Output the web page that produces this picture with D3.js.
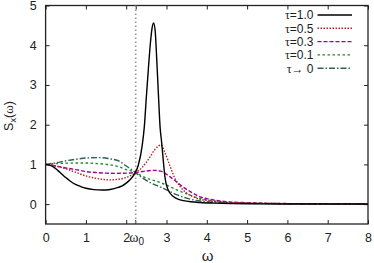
<!DOCTYPE html>
<html><head><meta charset="utf-8">
<script src="https://cdn.jsdelivr.net/npm/d3@7"></script>
<style>
body{margin:0;background:#fff;}
text{font-family:"Liberation Sans",Arial,sans-serif;}
</style></head>
<body><svg id="c" width="374" height="263"></svg>
<script>
const xTicks = [0,1,2,3,4,5,6,7,8];
const yTicks = [0,1,2,3,4,5];
const omega0 = 2.236;
const legendSym = ["τ","τ","τ","τ","τ→"];
const legendVal = ["=1.0","=0.5","=0.3","=0.1"," 0"];

const w1 = [0,0.1,0.2,0.3,0.4,0.5,0.6,0.7,0.8,0.9,1.0,1.2,1.4,1.6,1.8,1.9,2.0,2.1,2.2,2.3,2.4,2.45,2.5,2.55,2.6,2.64,2.68,2.72,2.76,2.8,2.84,2.88,2.92,2.96,3.04,3.17,3.3,3.42,3.6,3.83,4.2,4.6,5,6,7,8];
const s1 = [1.0,0.98,0.93,0.85,0.76,0.67,0.59,0.52,0.47,0.43,0.40,0.365,0.355,0.37,0.42,0.46,0.53,0.62,0.75,0.98,1.5,1.95,2.7,3.4,4.05,4.42,4.56,4.35,3.6,2.75,1.95,1.55,1.1,0.69,0.36,0.19,0.12,0.09,0.06,0.04,0.025,0.015,0.01,0.005,0.003,0.002];

const w2 = [0,0.25,0.5,0.75,1.0,1.25,1.5,1.6,1.75,2.0,2.23,2.4,2.6,2.7,2.8,2.86,2.96,3.09,3.2,3.34,3.5,3.75,4.0,4.5,5,6,7,8];
const s2 = [1.0,0.96,0.89,0.80,0.71,0.65,0.615,0.61,0.62,0.67,0.79,0.93,1.2,1.36,1.46,1.49,1.30,0.95,0.67,0.44,0.28,0.15,0.09,0.045,0.025,0.012,0.007,0.004];

const w3 = [0,0.25,0.5,0.75,1.0,1.25,1.5,1.75,2.0,2.23,2.4,2.6,2.7,2.85,3.0,3.1,3.25,3.4,3.6,3.8,4.0,4.25,4.5,5,5.5,6,7,8];
const s3 = [1.0,0.96,0.91,0.87,0.82,0.795,0.78,0.775,0.78,0.795,0.82,0.845,0.85,0.83,0.75,0.68,0.56,0.44,0.31,0.20,0.14,0.09,0.06,0.035,0.02,0.014,0.008,0.005];

const w4 = [0,0.25,0.5,1.0,1.3,1.6,1.85,2.0,2.23,2.4,2.6,2.8,3.0,3.25,3.5,3.75,4.0,4.5,5,6,7,8];
const s4 = [1.0,1.02,1.03,1.035,1.02,0.99,0.93,0.87,0.80,0.70,0.62,0.56,0.48,0.36,0.26,0.17,0.11,0.05,0.03,0.012,0.007,0.005];

const w5 = [0,0.25,0.5,0.75,1.0,1.35,1.6,1.85,2.0,2.1,2.23,2.4,2.6,2.8,3.0,3.25,3.5,3.75,4.0,4.5,5,6,7,8];
const s5 = [1.0,1.04,1.09,1.13,1.16,1.17,1.14,1.07,0.96,0.89,0.80,0.66,0.54,0.45,0.36,0.24,0.15,0.09,0.06,0.03,0.02,0.01,0.006,0.004];

const seriesW = [w1,w2,w3,w4,w5];
const seriesS = [s1,s2,s3,s4,s5];
const colors = ["#000000","#b22222","#a000a0","#228b22","#2f5f5f"];
const dashes = [null,"1.5,1.5","4,2","2.5,2.5","6,2,1.5,2"];
const widths = [1.4,1.4,1.4,1.4,1.4];

const svg = d3.select("#c");
const L=45.6, R=368, T=5.5, B=224;
const x = d3.scaleLinear().domain([0,8]).range([L,R]);
const y = d3.scaleLinear().domain([-0.5,5]).range([B,T]);

const tk = 4;
const gB = svg.append("g").attr("transform",`translate(0,${B})`)
  .call(d3.axisBottom(x).tickValues(xTicks).tickSize(-tk).tickPadding(9).tickFormat(d3.format("d")));
const gT = svg.append("g").attr("transform",`translate(0,${T})`)
  .call(d3.axisTop(x).tickValues(xTicks.concat([omega0])).tickSize(-tk).tickFormat(""));
const gL = svg.append("g").attr("transform",`translate(${L},0)`)
  .call(d3.axisLeft(y).tickValues(yTicks).tickSize(-tk).tickPadding(9).tickFormat(d3.format("d")));
const gR = svg.append("g").attr("transform",`translate(${R},0)`)
  .call(d3.axisRight(y).tickValues(yTicks).tickSize(-tk).tickFormat(""));
[gB,gT,gL,gR].forEach(g=>{
  g.select(".domain").remove();
  g.selectAll(".tick line").attr("stroke","#222").attr("stroke-width",1);
  g.selectAll("text").attr("font-size","12.5px").attr("fill","#222")
   .attr("font-family","'Liberation Sans',Arial,sans-serif");
});
const gO = svg.append("g").attr("transform",`translate(${x(omega0)},${B})`);
gO.append("line").attr("y1",0).attr("y2",-tk).attr("stroke","#222");
const ot = gO.append("text").attr("y",17.5).attr("x",1).attr("text-anchor","middle").attr("fill","#222");
ot.append("tspan").text("ω").attr("font-family","'Liberation Serif',serif").attr("font-size","14px");
ot.append("tspan").text("0").attr("font-size","10px").attr("dy",3);

svg.append("rect").attr("x",L).attr("y",T).attr("width",R-L).attr("height",B-T)
  .attr("fill","none").attr("stroke","#222").attr("stroke-width",1.3);

svg.append("line").attr("x1",x(omega0)).attr("x2",x(omega0)).attr("y1",T).attr("y2",B)
  .attr("stroke","#999").attr("stroke-width",1.6).attr("stroke-dasharray","1.6,2.4");

const line = d3.line().x(d=>x(d[0])).y(d=>y(d[1])).curve(d3.curveMonotoneX);
for(let i=4;i>=0;i--){
  const pts = seriesW[i].map((w,j)=>[w,seriesS[i][j]]);
  svg.append("path").datum(pts).attr("d",line).attr("fill","none")
    .attr("stroke",colors[i]).attr("stroke-width",widths[i])
    .attr("stroke-dasharray",dashes[i]);
}

const lg = svg.append("g");
legendSym.forEach((sym,i)=>{
  const yy = 15 + i*13.3;
  const t = lg.append("text").attr("x",313.5).attr("y",yy+4.3).attr("text-anchor","end")
    .attr("font-size","12px").attr("fill","#222");
  t.append("tspan").text(sym).attr("font-family","'Liberation Serif',serif");
  t.append("tspan").text(legendVal[i]);
  lg.append("line").attr("x1",317.5).attr("x2",352).attr("y1",yy).attr("y2",yy)
    .attr("stroke",colors[i]).attr("stroke-width",widths[i]).attr("stroke-dasharray",dashes[i]);
});

svg.append("text").attr("x",207.5).attr("y",261).attr("text-anchor","middle")
  .attr("font-family","'Liberation Serif',serif").attr("font-size","15px").attr("fill","#222").text("ω");
const yl = svg.append("text").attr("transform","translate(13,116) rotate(-90)").attr("text-anchor","middle")
  .attr("font-size","12.5px").attr("fill","#222");
yl.append("tspan").text("S");
yl.append("tspan").text("x").attr("font-size","9px").attr("dy",3);
yl.append("tspan").text("(").attr("dy",-3);
yl.append("tspan").text("ω").attr("font-family","'Liberation Serif',serif").attr("font-size","13px");
yl.append("tspan").text(")");
</script></body></html>
